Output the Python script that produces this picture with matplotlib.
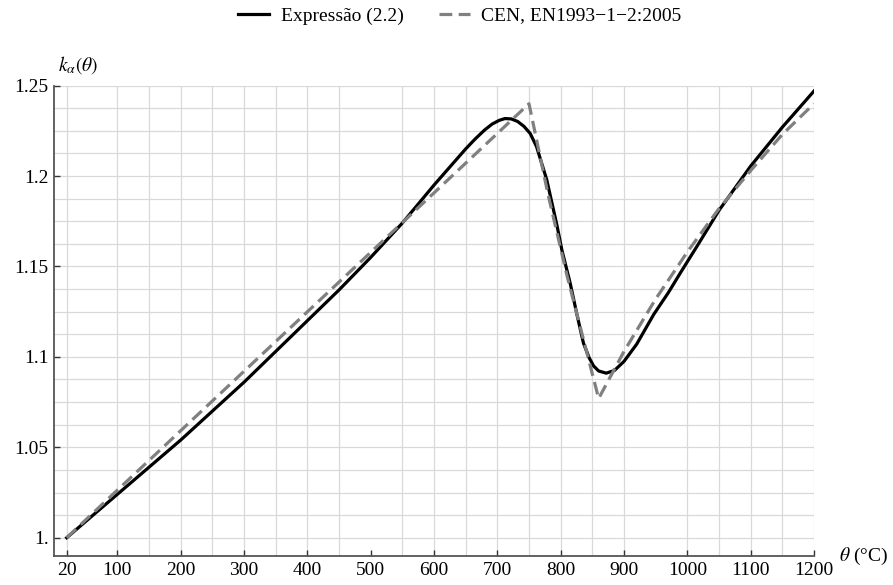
import matplotlib
matplotlib.use('Agg')
import matplotlib.pyplot as plt
import numpy as np

plt.rcParams['font.family'] = ['Liberation Serif', 'DejaVu Serif']
plt.rcParams['mathtext.fontset'] = 'stix'

# Expressão (2.2)
theta_expr = [20, 100, 150, 200, 250, 300, 350, 400, 450, 500, 550, 600, 650, 665,
              680, 692, 703, 712, 722, 732, 742, 752, 762, 778, 794, 802, 815, 826,
              836, 845, 852, 860, 872, 885, 900, 920, 947, 970, 990, 1015, 1050,
              1100, 1150, 1200]
k_expr = [1.0, 1.024, 1.039, 1.054, 1.070, 1.086, 1.103, 1.120, 1.137, 1.155, 1.174,
          1.195, 1.215, 1.2205, 1.2255, 1.2288, 1.2308, 1.2318, 1.2316, 1.2302,
          1.2275, 1.2235, 1.2162, 1.198, 1.173, 1.159, 1.1408, 1.123, 1.1076,
          1.0995, 1.0950, 1.0922, 1.091, 1.0925, 1.0975, 1.107, 1.1235, 1.1355,
          1.147, 1.161, 1.181, 1.2055, 1.227, 1.247]

# CEN, EN1993-1-2:2005
theta_cen = [20, 750, 780, 810, 860, 880, 900, 950, 1000, 1050, 1100, 1150, 1200]
k_cen = [1.0, 1.240, 1.190, 1.145, 1.077, 1.090, 1.103, 1.132, 1.158, 1.182, 1.203,
         1.223, 1.240]

x_ticks = [20, 100, 200, 300, 400, 500, 600, 700, 800, 900, 1000, 1100, 1200]
y_ticks = [1.0, 1.05, 1.1, 1.15, 1.2, 1.25]
y_tick_labels = ['1.', '1.05', '1.1', '1.15', '1.2', '1.25']
grid_x = [20, 100, 150, 200, 250, 300, 350, 400, 450, 550, 600, 650, 700, 750,
          800, 850, 900, 1000, 1050, 1100, 1150, 1200]
grid_y = np.arange(1.0, 1.2501, 0.0125)

fig = plt.figure(figsize=(8.93, 5.85), dpi=100)
ax = fig.add_axes([0.0605, 0.0496, 0.851, 0.804])

x_min, x_max = 0, 1200
y_min, y_max = 0.9899, 1.25

# grelha
grid_kw = dict(color='#d9d9d9', linewidth=0.9, zorder=0)
ax.vlines(grid_x, y_min, y_max, **grid_kw)
ax.hlines(grid_y, x_min, x_max, **grid_kw)

ax.plot(theta_expr, k_expr, color='black', linewidth=2.3, zorder=3,
        solid_joinstyle='round', label='Expressão (2.2)')
ax.plot(theta_cen, k_cen, color='#808080', linewidth=2.3, dashes=(4, 2),
        zorder=4, label='CEN, EN1993\u22121\u22122:2005')

ax.set_xlim(x_min, x_max)
ax.set_ylim(y_min, y_max)
ax.set_xticks(x_ticks)
ax.set_yticks(y_ticks)
ax.set_yticklabels(y_tick_labels)
ax.tick_params(direction='in', length=4, width=1, color='#333333',
               labelsize=14, pad=4)

for side in ['top', 'right']:
    ax.spines[side].set_visible(False)
for side in ['left', 'bottom']:
    ax.spines[side].set_color('#555555')
    ax.spines[side].set_linewidth(1.3)

ax.text(6, 1.25 + 0.0055, r'$k_\alpha(\theta)$', fontsize=14,
        ha='left', va='bottom')
ax.text(1240, y_min, r'$\theta$ (°C)', fontsize=14, ha='left', va='center')

fig.legend(loc='upper center', bbox_to_anchor=(0.515, 1.018), ncol=2,
           frameon=False, fontsize=14, handlelength=1.6, columnspacing=1.8,
           handletextpad=0.6)

fig.savefig('out.png', dpi=100)
